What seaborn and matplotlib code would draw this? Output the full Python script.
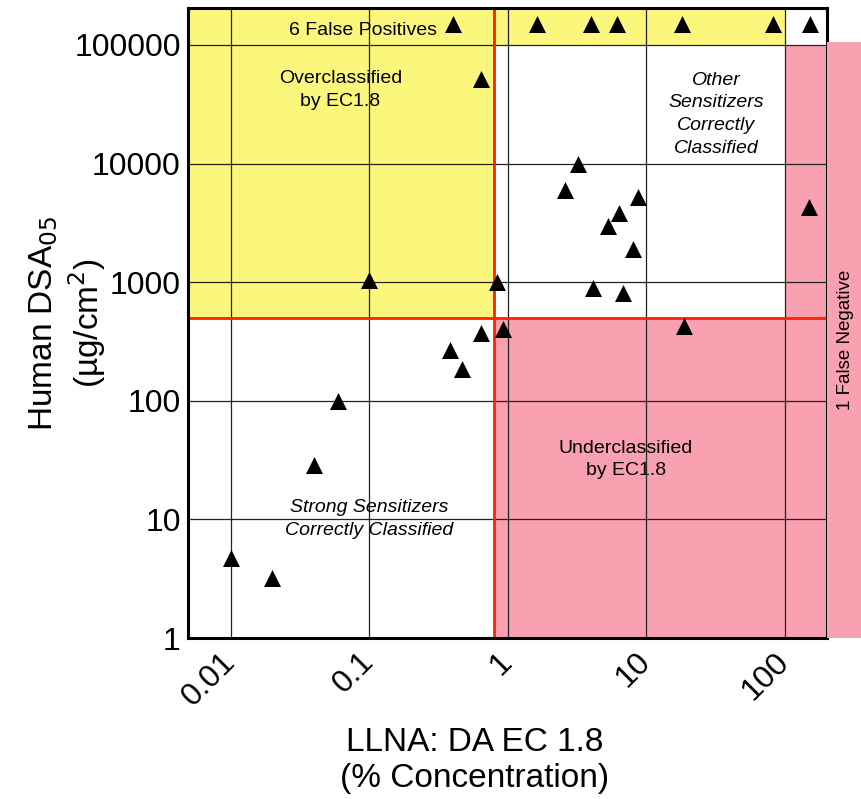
import matplotlib
matplotlib.use('Agg')
import matplotlib.pyplot as plt
from matplotlib.patches import Rectangle
import seaborn as sns
import pandas as pd

# LLNA: DA EC1.8 (%) vs human DSA05 (ug/cm2)
ec18 = [0.40, 1.62, 3.98, 6.1, 18, 82, 151,
        0.64, 3.2, 2.6, 8.7, 6.3, 5.3, 8.0, 4.1, 6.8, 18.6, 149,
        0.1, 0.83, 0.92, 0.64, 0.38, 0.47, 0.060, 0.040, 0.010, 0.020]
dsa05 = [150000, 150000, 150000, 150000, 150000, 150000, 150000,
         52000, 10000, 6000, 5200, 3800, 3000, 1900, 900, 810, 425, 4300,
         1050, 1000, 400, 372, 270, 185, 100, 29, 4.7, 3.2]

x_ticks = [0.01, 0.1, 1, 10, 100]
x_tick_labels = ['0.01', '0.1', '1', '10', '100']
y_ticks = [1, 10, 100, 1000, 10000, 100000]
y_tick_labels = ['1', '10', '100', '1000', '10000', '100000']

ec_cut = 0.79     # EC1.8 threshold (%)
dsa_cut = 500     # DSA05 threshold
fp_band = 100000  # start of false positive band
fn_band = 100     # start of false negative strip

df = pd.DataFrame({'EC1.8': ec18, 'DSA05': dsa05})

sns.set_style('white')
plt.rcParams['font.family'] = ['Liberation Sans', 'DejaVu Sans']
plt.rcParams['text.color'] = 'black'
plt.rcParams['axes.labelcolor'] = 'black'
plt.rcParams['xtick.color'] = 'black'
plt.rcParams['ytick.color'] = 'black'

yellow = '#fbf77c'
pink = '#f9a0b1'

fig = plt.figure(figsize=(8.61, 7.99), dpi=100)
ax = fig.add_axes([0.218, 0.2015, 0.7425, 0.7885])
xmin, xmax = 0.0049, 201
ymin, ymax = 1, 205000
ax.set_xscale('log')
ax.set_yscale('log')
ax.set_xlim(xmin, xmax)
ax.set_ylim(ymin, ymax)

# shaded regions
ax.fill_between([xmin, ec_cut], dsa_cut, ymax, color=yellow, lw=0, zorder=0)
ax.fill_between([ec_cut, fn_band], fp_band, ymax, color=yellow, lw=0, zorder=0)
ax.fill_between([ec_cut, xmax], ymin, dsa_cut, color=pink, lw=0, zorder=0)
ax.fill_between([fn_band, xmax], ymin, fp_band, color=pink, lw=0, zorder=0)

# pink strip outside the axes
fig.patches.append(Rectangle((0.9605, 0.2015), 0.04, (799 - 42) / 799 - 0.2015,
                             transform=fig.transFigure, color=pink, lw=0, zorder=0))

ax.grid(True, which='major', color='#222222', lw=0.9, zorder=1)
ax.set_axisbelow(True)

ax.axvline(ec_cut, color='#ff2200', lw=2, zorder=2)
ax.axhline(dsa_cut, color='#ff2200', lw=2, zorder=2)

sns.scatterplot(data=df, x='EC1.8', y='DSA05', marker='^', s=150, color='black',
                edgecolor='black', linewidth=0, ax=ax, zorder=3, legend=False)

ax.set_xticks(x_ticks)
ax.set_xticklabels(x_tick_labels, rotation=45, ha='right', va='center',
                   rotation_mode='anchor', fontsize=23)
ax.set_yticks(y_ticks)
ax.set_yticklabels(y_tick_labels, fontsize=23)
ax.tick_params(which='major', direction='in', length=0, pad=5)
ax.tick_params(axis='x', which='major', pad=14)
ax.tick_params(which='minor', direction='in', length=5, width=1.2, color='black')

for s in ax.spines.values():
    s.set_color('black')
    s.set_linewidth(2.2)

ax.set_xlabel('LLNA: DA EC 1.8\n(% Concentration)', fontsize=24, va='center')
ax.xaxis.set_label_coords(0.449, -0.194)
ax.set_ylabel('Human DSA$_{05}$\n(\u00b5g/cm$^2$)', fontsize=24, va='center')
ax.yaxis.set_label_coords(-0.188, 0.5)

ax.text(0.09, 132000, '6 False Positives', fontsize=14, ha='center', va='center', zorder=4)
ax.text(0.062, 42000, 'Overclassified\nby EC1.8', fontsize=14, ha='center', va='center',
        linespacing=1.45)
ax.text(32, 26000, 'Other\nSensitizers\nCorrectly\nClassified', fontsize=14,
        style='italic', ha='center', va='center', linespacing=1.45)
ax.text(7.1, 32, 'Underclassified\nby EC1.8', fontsize=14, ha='center', va='center',
        linespacing=1.45)
ax.text(0.1, 10, 'Strong Sensitizers\nCorrectly Classified', fontsize=14,
        style='italic', ha='center', va='center', linespacing=1.45)
fig.text(0.982, 0.575, '1 False Negative', rotation=90, fontsize=13.5,
         ha='center', va='center')

fig.savefig('out.png', dpi=100)
